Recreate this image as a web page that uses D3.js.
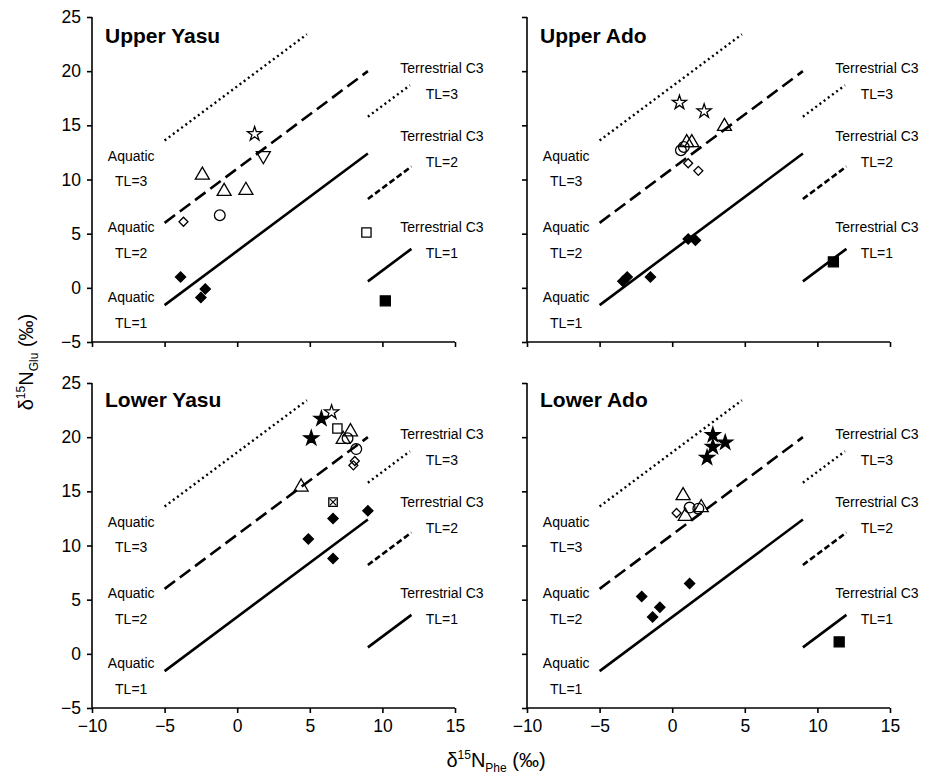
<!DOCTYPE html>
<html>
<head>
<meta charset="utf-8">
<script src="https://cdn.jsdelivr.net/npm/d3@7"></script>
<style>
  body { margin: 0; background: #fff; }
  text { font-family: "Liberation Sans", Arial, sans-serif; fill: #000; }
</style>
</head>
<body>
<script>
// Panel names and tick labels
const panelNames = ["Upper Yasu", "Upper Ado", "Lower Yasu", "Lower Ado"];
const xTicks = [-10, -5, 0, 5, 10, 15];
const xTickLabels = ["\u221210", "\u22125", "0", "5", "10", "15"];
const yTicks = [-5, 0, 5, 10, 15, 20, 25];
const yTickLabels = ["\u22125", "0", "5", "10", "15", "20", "25"];

// Trophic level reference lines (endpoints, delta15N Phe / Glu)
const trophicLevels = [1, 2, 3];
const aquaticPhe = [[-5, 9], [-5, 9], [-5, 4.8]];
const aquaticGlu = [[-1.6, 12.4], [6.0, 20.0], [13.6, 23.4]];
const terrestrialPhe = [[9, 12], [9, 12], [9, 11.9]];
const terrestrialGlu = [[0.6, 3.6], [8.2, 11.2], [15.8, 18.7]];

// Samples: [Phe, Glu, marker]
const upperYasu = [
  [-3.9, 1.0, "diamondFilled"],
  [-2.5, -0.9, "diamondFilled"],
  [-2.2, -0.1, "diamondFilled"],
  [-3.7, 6.1, "diamondOpen"],
  [-1.2, 6.7, "circle"],
  [-2.4, 10.4, "triangle"],
  [-0.9, 8.9, "triangle"],
  [0.6, 9.0, "triangle"],
  [1.8, 12.2, "triangleDown"],
  [1.2, 14.2, "starOpen"],
  [8.9, 5.1, "squareOpen"],
  [10.2, -1.2, "squareFilled"]
];
const upperAdo = [
  [-3.4, 0.6, "diamondFilled"],
  [-3.1, 1.0, "diamondFilled"],
  [-1.5, 1.0, "diamondFilled"],
  [1.1, 4.5, "diamondFilled"],
  [1.6, 4.4, "diamondFilled"],
  [11.1, 2.4, "squareFilled"],
  [1.1, 11.5, "diamondOpen"],
  [1.8, 10.8, "diamondOpen"],
  [0.6, 12.7, "circle"],
  [0.8, 13.0, "circle"],
  [1.0, 13.4, "triangle"],
  [1.35, 13.4, "triangle"],
  [3.6, 14.9, "triangle"],
  [0.5, 17.1, "starOpen"],
  [2.2, 16.3, "starOpen"]
];
const lowerYasu = [
  [4.9, 10.6, "diamondFilled"],
  [6.6, 12.5, "diamondFilled"],
  [6.6, 8.8, "diamondFilled"],
  [9.0, 13.2, "diamondFilled"],
  [6.6, 14.0, "squareCross"],
  [4.4, 15.4, "triangle"],
  [7.3, 19.8, "triangle"],
  [7.8, 20.5, "triangle"],
  [7.6, 19.9, "circle"],
  [8.2, 18.9, "circle"],
  [8.1, 17.8, "diamondOpen"],
  [8.0, 17.4, "diamondOpen"],
  [6.9, 20.8, "squareOpen"],
  [6.5, 22.3, "starOpen"],
  [5.8, 21.7, "starFilled"],
  [5.1, 19.9, "starFilled"]
];
const lowerAdo = [
  [2.8, 20.2, "starFilled"],
  [3.65, 19.5, "starFilled"],
  [2.8, 19.1, "starFilled"],
  [2.4, 18.1, "starFilled"],
  [0.75, 14.6, "triangle"],
  [0.9, 12.7, "triangle"],
  [2.0, 13.5, "triangle"],
  [1.2, 13.5, "circle"],
  [1.8, 13.4, "circle"],
  [0.3, 13.0, "diamondOpen"],
  [-2.1, 5.3, "diamondFilled"],
  [-1.35, 3.4, "diamondFilled"],
  [-0.85, 4.3, "diamondFilled"],
  [1.2, 6.5, "diamondFilled"],
  [11.5, 1.1, "squareFilled"]
];
const panelData = [upperYasu, upperAdo, lowerYasu, lowerAdo];

//Dimensions of the page and the panels.
const width = 933;
const height = 778;
const plotW = 363;
const plotH = 325;
const panelLeft = [92, 527];
const panelTop = [17, 383];

const svg = d3.select("body")
  .append("svg")
  .attr("width", width)
  .attr("height", height);

const x = d3.scaleLinear().domain([-10, 15]).range([0, plotW]);
const y = d3.scaleLinear().domain([-5, 25]).range([plotH, 0]);

//Line styles for each trophic level.
const aquaticDash = { 1: null, 2: "13,6", 3: "2,3.2" };
const terrestrialDash = { 1: null, 2: "6,3", 3: "2,3.2" };

//Marker styles.
const markerStyle = {
  diamondFilled: { type: d3.symbolSquare, size: 52, rotate: 45, fill: "#000" },
  diamondOpen: { type: d3.symbolSquare, size: 40, rotate: 45, fill: "none" },
  circle: { type: d3.symbolCircle, size: 90, fill: "none" },
  triangle: { type: d3.symbolTriangle, size: 85, fill: "none" },
  triangleDown: { type: d3.symbolTriangle, size: 85, rotate: 180, fill: "none" },
  starOpen: { type: d3.symbolStar, size: 62, fill: "none" },
  starFilled: { type: d3.symbolStar, size: 68, fill: "#000" },
  squareOpen: { type: d3.symbolSquare, size: 85, fill: "none" },
  squareFilled: { type: d3.symbolSquare, size: 100, fill: "#000" },
  squareCross: { type: d3.symbolSquare, size: 72, fill: "none" }
};

//Annotation text next to the lines (data coordinates).
const aquaticLabelY = { 3: [11.7, 9.4], 2: [5.2, 2.8], 1: [-1.3, -3.7] };
const terrestrialLabelY = { 3: [19.85, 17.45], 2: [13.6, 11.2], 1: [5.2, 2.8] };

panelNames.forEach((name, i) => {
  const col = i % 2;
  const row = Math.floor(i / 2);
  const g = svg.append("g")
    .attr("transform", `translate(${panelLeft[col]},${panelTop[row]})`);

  //Axes.
  const xAxis = d3.axisBottom(x)
    .tickValues(xTicks)
    .tickSize(5)
    .tickSizeOuter(0)
    .tickPadding(7)
    .tickFormat((d, k) => row === 1 ? xTickLabels[k] : "");
  const yAxis = d3.axisLeft(y)
    .tickValues(yTicks)
    .tickSize(5)
    .tickSizeOuter(0)
    .tickPadding(6)
    .tickFormat((d, k) => col === 0 ? yTickLabels[k] : "");

  const gx = g.append("g").attr("transform", `translate(0,${plotH})`).call(xAxis);
  const gy = g.append("g").call(yAxis);
  [gx, gy].forEach(a => {
    a.selectAll("path, line").attr("stroke", "#000").attr("stroke-width", 1.6);
    a.selectAll("text").style("font-size", "17.5px").attr("fill", "#000")
      .style("font-family", "\"Liberation Sans\", Arial, sans-serif");
  });
  gx.select(".domain").attr("d", `M0,0H${plotW}`);
  gy.select(".domain").attr("d", `M0,${plotH}V0`);

  //Reference lines.
  trophicLevels.forEach((tl, k) => {
    g.append("line")
      .attr("x1", x(aquaticPhe[k][0])).attr("y1", y(aquaticGlu[k][0]))
      .attr("x2", x(aquaticPhe[k][1])).attr("y2", y(aquaticGlu[k][1]))
      .attr("stroke", "#000")
      .attr("stroke-width", tl === 3 ? 2.4 : 2.6)
      .attr("stroke-dasharray", aquaticDash[tl]);
    g.append("line")
      .attr("x1", x(terrestrialPhe[k][0])).attr("y1", y(terrestrialGlu[k][0]))
      .attr("x2", x(terrestrialPhe[k][1])).attr("y2", y(terrestrialGlu[k][1]))
      .attr("stroke", "#000")
      .attr("stroke-width", tl === 3 ? 2.4 : 2.6)
      .attr("stroke-dasharray", terrestrialDash[tl]);

    const aq = g.append("g").style("font-size", "14px").attr("text-anchor", "middle");
    aq.append("text").attr("x", x(-7.3)).attr("y", y(aquaticLabelY[tl][0])).text("Aquatic");
    aq.append("text").attr("x", x(-7.3)).attr("y", y(aquaticLabelY[tl][1])).text(`TL=${tl}`);
    const te = g.append("g").style("font-size", "14px").attr("text-anchor", "middle");
    te.append("text").attr("x", x(14.1)).attr("y", y(terrestrialLabelY[tl][0])).text("Terrestrial C3");
    te.append("text").attr("x", x(14.1)).attr("y", y(terrestrialLabelY[tl][1])).text(`TL=${tl}`);
  });

  //Panel title.
  g.append("text")
    .attr("x", 13)
    .attr("y", row === 0 ? 26 : 24)
    .style("font-size", "21px")
    .style("font-weight", "bold")
    .text(name);

  //Sample markers.
  const pts = g.selectAll(".pt")
    .data(panelData[i])
    .join("g")
    .attr("class", "pt")
    .attr("transform", d => `translate(${x(d[0])},${y(d[1])})`);

  pts.append("path")
    .attr("d", d => d3.symbol().type(markerStyle[d[2]].type).size(markerStyle[d[2]].size)())
    .attr("transform", d => `rotate(${markerStyle[d[2]].rotate || 0})`)
    .attr("fill", d => markerStyle[d[2]].fill)
    .attr("stroke", "#000")
    .attr("stroke-width", 1.3);

  pts.filter(d => d[2] === "squareCross")
    .append("path")
    .attr("d", () => {
      const h = Math.sqrt(markerStyle.squareCross.size) / 2 - 1;
      return `M${-h},${-h}L${h},${h}M${-h},${h}L${h},${-h}`;
    })
    .attr("stroke", "#000")
    .attr("stroke-width", 1.2);
});

//Axis titles.
const yTitle = svg.append("text")
  .attr("transform", "translate(33,362) rotate(-90)")
  .attr("text-anchor", "middle")
  .style("font-size", "20px");
yTitle.append("tspan").text("\u03b4");
yTitle.append("tspan").attr("dy", -8).style("font-size", "12px").text("15");
yTitle.append("tspan").attr("dy", 8).text("N");
yTitle.append("tspan").attr("dy", 5).style("font-size", "12px").text("Glu");
yTitle.append("tspan").attr("dy", -5).text(" (\u2030)");

const xTitle = svg.append("text")
  .attr("x", 496)
  .attr("y", 767)
  .attr("text-anchor", "middle")
  .style("font-size", "20px");
xTitle.append("tspan").text("\u03b4");
xTitle.append("tspan").attr("dy", -8).style("font-size", "12px").text("15");
xTitle.append("tspan").attr("dy", 8).text("N");
xTitle.append("tspan").attr("dy", 5).style("font-size", "12px").text("Phe");
xTitle.append("tspan").attr("dy", -5).text(" (\u2030)");
</script>
</body>
</html>
